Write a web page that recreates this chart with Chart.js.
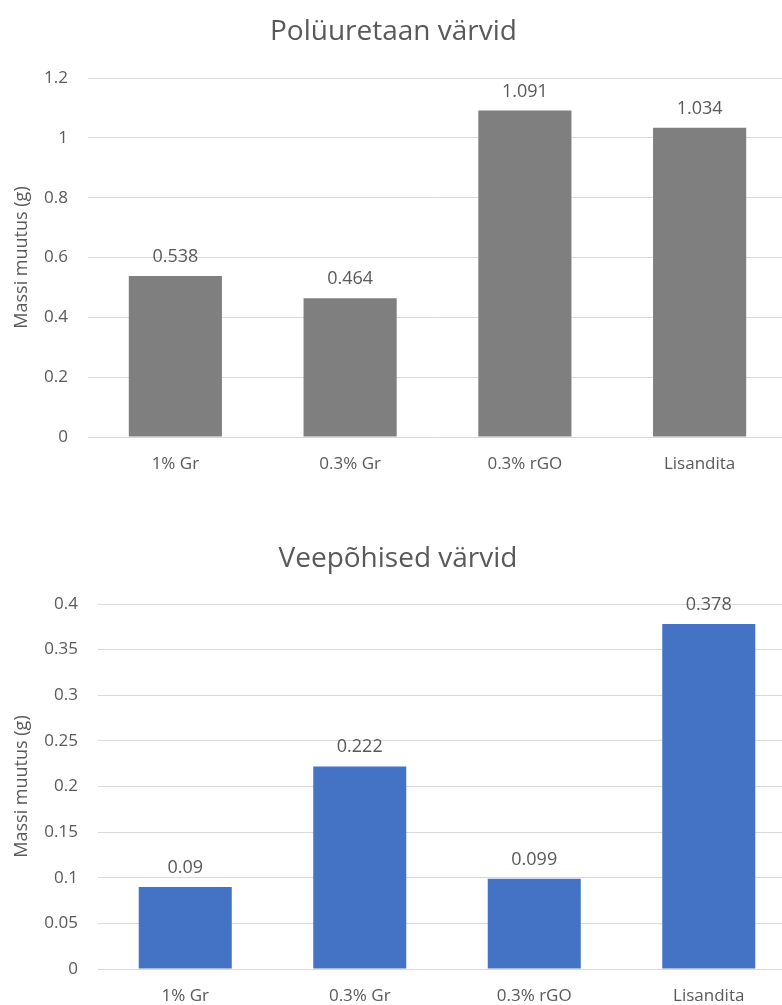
<!DOCTYPE html>
<html lang="et">
<head>
<meta charset="UTF-8">
<meta name="viewport" content="width=device-width, initial-scale=1.0">
<title>Massi muutus</title>
<script src="https://cdn.jsdelivr.net/npm/chart.js"></script>
<style>
    body { margin: 0; background: #fff; overflow: hidden; width: 782px; height: 1005px; }
    .grafik { position: absolute; left: 0; }
    #g1 { top: 0; }
    #g2 { top: 500px; }
</style>
</head>
<body>
<div class="grafik" id="g1"><canvas id="chart1" width="787" height="500"></canvas></div>
<div class="grafik" id="g2"><canvas id="chart2" width="796" height="520"></canvas></div>

<script>
const categories = ['1% Gr', '0.3% Gr', '0.3% rGO', 'Lisandita'];
const polyurethane = [0.538, 0.464, 1.091, 1.034];
const waterBased = [0.09, 0.222, 0.099, 0.378];
const ticks1 = [0, 0.2, 0.4, 0.6, 0.8, 1, 1.2];
const ticks2 = [0, 0.05, 0.1, 0.15, 0.2, 0.25, 0.3, 0.35, 0.4];
const title1 = 'Polüuretaan värvid';
const title2 = 'Veepõhised värvid';
const yTitle = 'Massi muutus (g)';

const FONT = '"Open Sans", "Noto Sans", sans-serif';
const TEXT = '#595959';

// value above each bar
const valueLabels = {
    id: 'valueLabels',
    afterDatasetsDraw(chart) {
        const ctx = chart.ctx;
        const meta = chart.getDatasetMeta(0);
        const values = chart.data.datasets[0].data;
        ctx.save();
        ctx.font = '18px ' + FONT;
        ctx.fillStyle = TEXT;
        ctx.textAlign = 'center';
        ctx.textBaseline = 'alphabetic';
        meta.data.forEach((bar, i) => {
            ctx.fillText(String(values[i]), bar.x, bar.y - 14);
        });
        ctx.restore();
    }
};

function plotarGrafico(id, titulo, valores, cor, ticks, o) {
    return new Chart(document.getElementById(id), {
        type: 'bar',
        data: {
            labels: categories,
            datasets: [{
                data: valores,
                backgroundColor: cor,
                categoryPercentage: 1,
                barPercentage: 0.533
            }]
        },
        options: {
            responsive: false,
            animation: false,
            devicePixelRatio: 1,
            layout: { padding: 0 },
            plugins: {
                legend: { display: false },
                tooltip: { enabled: false },
                title: {
                    display: true,
                    text: titulo,
                    color: TEXT,
                    font: { family: FONT, size: 28, weight: 'normal', lineHeight: 1.2 },
                    padding: { top: o.titleTop, bottom: o.titleBottom }
                }
            },
            scales: {
                x: {
                    grid: { display: false },
                    border: { display: false },
                    ticks: { color: TEXT, font: { family: FONT, size: 17 }, padding: 9 },
                    afterFit: s => { s.height = o.xHeight; }
                },
                y: {
                    min: 0,
                    max: ticks[ticks.length - 1],
                    grid: { color: '#d9d9d9', drawTicks: false },
                    border: { display: false },
                    ticks: {
                        color: TEXT,
                        font: { family: FONT, size: 17 },
                        padding: 20,
                        callback: v => String(+v.toFixed(2))
                    },
                    afterBuildTicks: s => { s.ticks = ticks.map(v => ({ value: v })); },
                    title: {
                        display: true,
                        text: yTitle,
                        color: TEXT,
                        font: { family: FONT, size: 18, lineHeight: 1.2 },
                        padding: { top: 11, bottom: 0 }
                    },
                    afterFit: s => { s.width = o.yWidth; }
                }
            }
        },
        plugins: [valueLabels]
    });
}

function desenhar() {
    plotarGrafico('chart1', title1, polyurethane, '#7f7f7f', ticks1,
        { titleTop: 15, titleBottom: 29.4, xHeight: 63, yWidth: 88 });
    plotarGrafico('chart2', title2, waterBased, '#4472c4', ticks2,
        { titleTop: 42, titleBottom: 28.4, xHeight: 51, yWidth: 98 });
}

if (document.fonts && document.fonts.load) {
    Promise.all([
        document.fonts.load('17px "Open Sans"'),
        document.fonts.load('28px "Open Sans"')
    ]).then(desenhar, desenhar);
} else {
    desenhar();
}
</script>
</body>
</html>
